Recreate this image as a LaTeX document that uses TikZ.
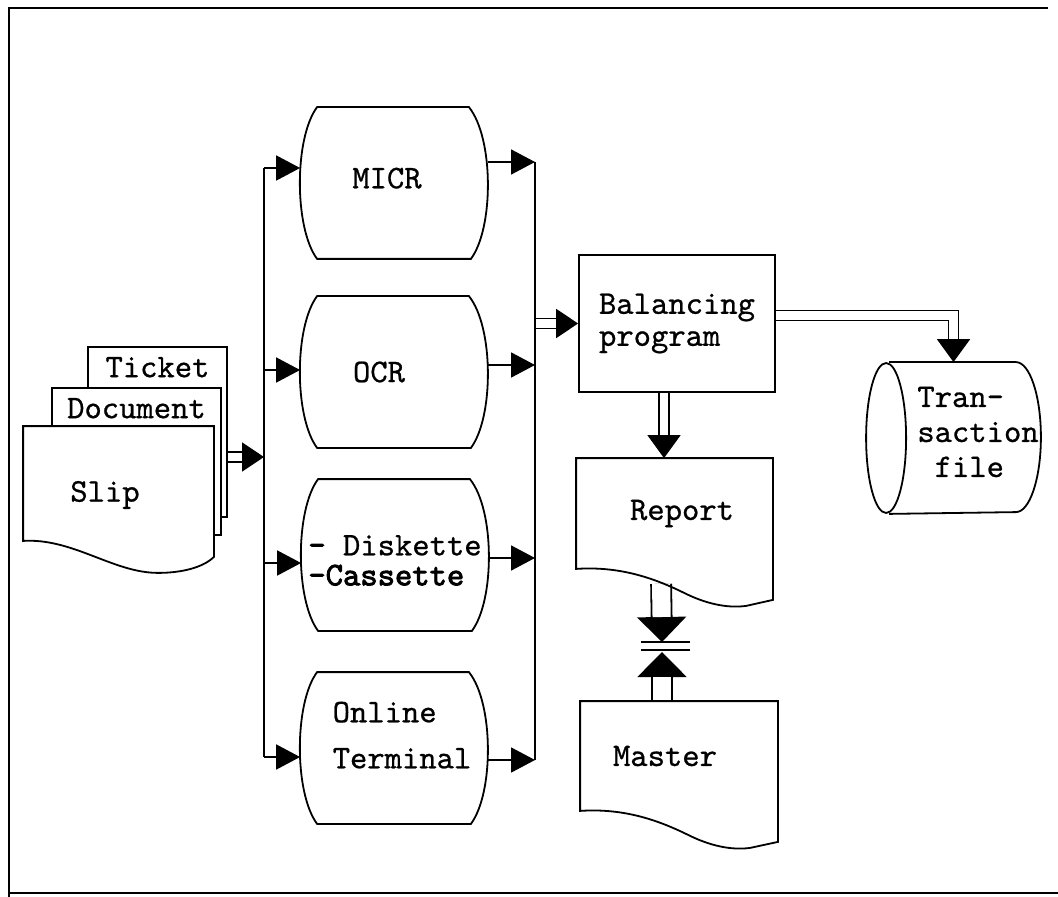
\documentclass[tikz,border=0pt]{standalone}
\usepackage{fontspec}
\newfontfamily\tw{lmmono10-regular.otf}[FakeBold=0.7,
  BoldFont=lmmono10-regular.otf, BoldFeatures={FakeBold=2.6}]
\usetikzlibrary{arrows.meta,calc}

% on-line storage outline: flat top and bottom, bulging sides
\newcommand\storeoutline[1]{%
  \draw ($(#1.north west)+(17,0)$) -- ($(#1.north east)+(-19,0)$)
    .. controls ($(#1.east)+(6,-45)$) and ($(#1.east)+(6,45)$) .. ($(#1.south east)+(-17,0)$)
    -- ($(#1.south west)+(17,0)$)
    .. controls ($(#1.west)+(-6,45)$) and ($(#1.west)+(-6,-45)$) .. cycle;}
% document outline: wavy bottom edge
\newcommand\docoutline[1]{%
  \draw ($(#1.south east)+(0,31)$) -- (#1.north east) -- (#1.north west) -- (#1.south west)
    .. controls ($(#1.south west)+(45,-3)$) and ($(#1.south west)+(80,10)$) .. ($(#1.south west)+(110,25)$)
    .. controls ($(#1.south west)+(135,37)$) and ($(#1.south west)+(155,39)$) .. ($(#1.south west)+(170,37)$)
    -- cycle;}
% file outline lying on its side
\newcommand\drumoutline[1]{%
  \draw ($(#1.west)+(20,0)$) ellipse [x radius=10pt, y radius=37.5pt];
  \draw ($(#1.north west)+(23,0)$) -- ($(#1.north east)+(-25,0)$)
    arc [start angle=90, end angle=-90, x radius=12.5pt, y radius=37.5pt]
    -- ($(#1.south west)+(23,0)$);}
% double-line connector with a solid tip: #1 tip length, #2 tip width, #3 gap, #4 path
\newcommand\dblink[4]{%
  \draw[-{Triangle[length=#1,width=#2]}] #4;
  \draw[double, double distance=#3, shorten >=#1] #4;}

\begin{document}
\begin{tikzpicture}[x=0.5pt,y=-0.5pt,line width=0.9pt,
  every node/.style={font=\tw\fontsize{16.5}{19}\selectfont, inner sep=0pt},
  store/.style={rectangle, minimum width=93pt, minimum height=75pt, align=left},
  sheet/.style={rectangle, draw, fill=white},
  docbox/.style={rectangle, minimum width=97.5pt, minimum height=54.5pt},
  arr/.style={-{Triangle[length=12pt,width=12.5pt]}}]
\useasboundingbox (0,0) rectangle (1058,897);

% frame
\draw (9,897) -- (9,8) -- (1048,8);
\draw (9,893) -- (1058,893);

% source documents
\node[sheet, minimum width=69.5pt, minimum height=85pt,
  label={[anchor=north, yshift=-5pt]north:Ticket}] (ticket) at (157.5,432) {};
\node[sheet, minimum width=84.5pt, minimum height=73.5pt,
  label={[anchor=north, yshift=-5pt]north:Document}] (document) at (136.5,461.5) {};
\node[rectangle, minimum width=94.5pt, minimum height=56.5pt] (slip) at (118.5,483.5) {};
\filldraw[fill=white] (slip.south west) -- (slip.north west) -- (slip.north east)
  -- ($(slip.south east)+(0,16)$)
  .. controls ($(slip.south east)+(-10,26)$) and ($(slip.south west)+(160,32)$) .. ($(slip.south west)+(135,32)$)
  .. controls ($(slip.south west)+(90,32)$) and ($(slip.south west)+(50,-3)$) .. (slip.south west) -- cycle;
\node (sliptext) at (105,495) {Slip};

% input media
\node[store, text depth=5pt] (micr) at (394,183) {MICR\hspace*{7pt}};
\node[store] (ocr) at (394,372) {OCR\hspace*{15pt}};
\node[store, text height=30.5pt, font=\tw\fontsize{16.5}{15}\selectfont] (disk) at (395,555)
  {\textbf{-} Diskette\\\textbf{-Cassette}};
\node[store, text depth=13pt, font=\tw\fontsize{16.5}{23}\selectfont] (online) at (394,748)
  {\hspace*{8pt}Online\\\hspace*{8pt}Terminal};

% processing and outputs
\node[draw, rectangle, minimum width=98pt, minimum height=68.5pt, align=left,
  font=\tw\fontsize{16.5}{16}\selectfont] (bp) at (677,323.5) {Balancing\\program};
\node[docbox] (report) at (674.5,513.5) {\hspace*{7.5pt}Report};
\node[docbox, minimum width=98pt, minimum height=54pt] (master) at (679,756) {Master\hspace*{14pt}};
\node[rectangle, minimum width=86.5pt, minimum height=75pt,
  label={[align=left, xshift=12.25pt, yshift=3pt, font=\tw\fontsize{16.5}{17.5}\selectfont]center:Tran-\\saction\\\hspace*{8.66pt}file}] (trans) at (953.5,438) {};

% bus points
\coordinate (lbT) at (264,168);
\coordinate (lb2) at (264,370);
\coordinate (lb3) at (264,563);
\coordinate (lbB) at (264,757);
\coordinate (lbD) at (264,457);
\coordinate (rbT) at (535,162);
\coordinate (rb2) at (535,365);
\coordinate (rb3) at (535,558);
\coordinate (rbB) at (535,760);
\coordinate (rbP) at (535,323.5);
\coordinate (eqA) at (662,642);
\coordinate (eqB) at (662,652);

% double-line flows
\dblink{11pt}{14.5pt}{4.1pt}{(ticket.east |- lbD) -- (lbD)}
\dblink{11pt}{14.5pt}{4.1pt}{(rbP) -- (bp.west)}
\dblink{11.5pt}{16.5pt}{4.1pt}{($(bp.east)+(0,-8)$) -| (trans.north)}
\dblink{11.5pt}{16.5pt}{4.1pt}{($(bp.south)+(-13,0)$) -- ($(report.north)+(-10.5,0)$)}
\dblink{12.5pt}{24.5pt}{9.1pt}{($(report.south west)+(85,15)$) -- (eqA)}
\dblink{12.5pt}{24.5pt}{9.1pt}{($(master.north)+(-17,0)$) -- (eqB)}
\draw ($(eqA)+(-21,0)$) -- ($(eqA)+(28,0)$);
\draw ($(eqB)+(-21,-2)$) -- ($(eqB)+(28,-2)$);

% distribution and collection buses
\draw (lbT) -- (lbB);
\draw (rbT) -- (rbB);
\foreach \n/\c in {micr/lbT, ocr/lb2, disk/lb3, online/lbB}
  \draw[arr] (\c) -- (\c -| \n.west);
\foreach \n/\c in {micr/rbT, ocr/rb2, disk/rb3, online/rbB}
  \draw[arr] (\n.east |- \c) -- (\c);

% outlines
\storeoutline{micr}
\storeoutline{ocr}
\storeoutline{disk}
\storeoutline{online}
\docoutline{report}
\docoutline{master}
\drumoutline{trans}
\end{tikzpicture}
\end{document}
